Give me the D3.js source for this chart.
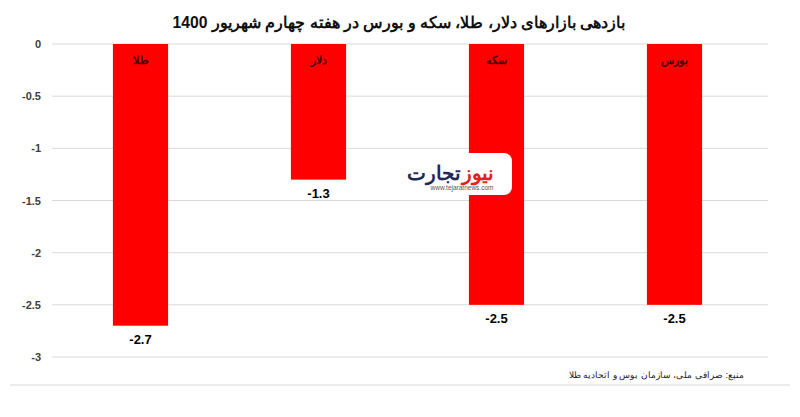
<!DOCTYPE html>
<html><head><meta charset="utf-8">
<script src="https://cdn.jsdelivr.net/npm/d3@7"></script>
<style>body{margin:0;background:#fff}svg{display:block}</style>
</head><body>
<svg id="c" width="800" height="417"></svg>
<script>
const categories = ["طلا", "دلار", "سکه", "بورس"];
const values = [-2.7, -1.3, -2.5, -2.5];
const yTicks = [0, -0.5, -1, -1.5, -2, -2.5, -3];
const title = "بازدهی بازارهای دلار، طلا، سکه و بورس در هفته چهارم شهریور 1400";
const source = "منبع: صرافی ملی، سازمان بوس و اتحادیه طلا";

const svg = d3.select("#c");
const font = "Arial, 'Liberation Sans', sans-serif";
const x = d3.scaleBand().domain(categories).range([51.5, 763.5]).paddingInner(0.69).paddingOuter(0.345);
const y = d3.scaleLinear().domain([0, -3]).range([44, 357]);

// grid
svg.append("g").selectAll("line").data(yTicks).join("line")
  .attr("x1", 52).attr("x2", 768)
  .attr("y1", d => y(d)).attr("y2", d => y(d))
  .attr("stroke", "#d9d9d9").attr("stroke-width", 1);

// y axis labels
const yAxis = d3.axisLeft(y).tickValues(yTicks).tickSize(0).tickPadding(0).tickFormat(d => String(d));
const ga = svg.append("g").attr("transform", "translate(41,0)").call(yAxis);
ga.select(".domain").remove();
ga.selectAll("text").attr("font-family", font).attr("font-size", 11).attr("font-weight", "bold").attr("fill", "#404040");

// bars
svg.append("g").selectAll("rect").data(values).join("rect")
  .attr("x", (d, i) => x(categories[i]))
  .attr("y", y(0))
  .attr("width", x.bandwidth())
  .attr("height", d => y(d) - y(0))
  .attr("fill", "#ff0000");

// category labels inside bars
svg.append("g").selectAll("text").data(categories).join("text")
  .attr("x", d => x(d) + x.bandwidth() / 2)
  .attr("y", 64)
  .attr("text-anchor", "middle")
  .attr("font-family", font).attr("font-size", 11).attr("font-weight", "bold")
  .attr("fill", "#3a0000")
  .text(d => d);

// value labels
svg.append("g").selectAll("text").data(values).join("text")
  .attr("x", (d, i) => x(categories[i]) + x.bandwidth() / 2)
  .attr("y", d => y(d) + 18)
  .attr("text-anchor", "middle")
  .attr("font-family", font).attr("font-size", 13).attr("font-weight", "bold")
  .attr("fill", "#000")
  .text(d => String(d));

// title
svg.append("text").attr("x", 399).attr("y", 28).attr("text-anchor", "middle")
  .attr("font-family", font).attr("font-size", 15.7).attr("font-weight", "bold").attr("fill", "#111")
  .text(title);

// source
svg.append("text").attr("x", 744).attr("y", 378).attr("text-anchor", "end")
  .attr("font-family", font).attr("font-size", 9).attr("fill", "#222")
  .text(source);

// bottom frame line
svg.append("line").attr("x1", 10).attr("x2", 790).attr("y1", 385).attr("y2", 385)
  .attr("stroke", "#d9d9d9");

// watermark logo
const lg = svg.append("g");
lg.append("rect").attr("x", 412).attr("y", 153).attr("width", 100).attr("height", 42).attr("rx", 8).attr("fill", "#fff");
lg.append("text").attr("x", 461).attr("y", 180).attr("text-anchor", "end")
  .attr("font-family", font).attr("font-size", 20).attr("font-weight", "bold").attr("fill", "#1f2a5a").text("تجارت");
lg.append("text").attr("x", 462).attr("y", 180).attr("text-anchor", "start")
  .attr("font-family", font).attr("font-size", 20).attr("font-weight", "bold").attr("fill", "#e52020").text("نیوز");
lg.append("text").attr("x", 462).attr("y", 190).attr("text-anchor", "middle")
  .attr("font-family", font).attr("font-size", 6.5).attr("fill", "#555").text("www.tejaratnews.com");
</script>
</body></html>
